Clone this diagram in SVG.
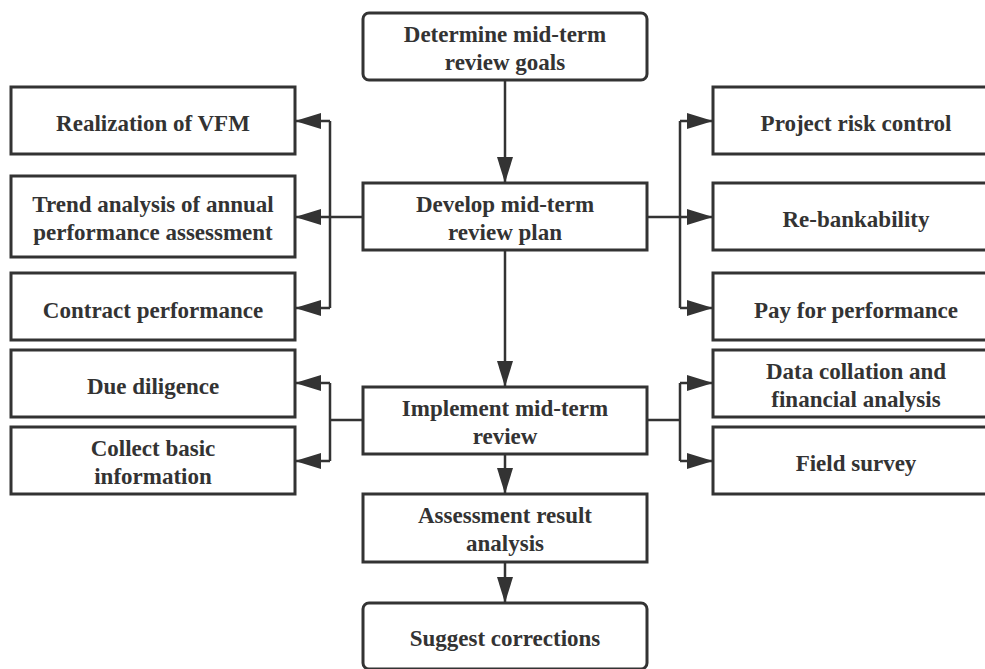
<svg xmlns="http://www.w3.org/2000/svg" width="985" height="669" viewBox="0 0 985 669">
<style>
.box{fill:#fff;stroke:#333;stroke-width:3}
.t{font-family:"Liberation Serif","Times New Roman",serif;font-weight:bold;font-size:23px;fill:#333;text-anchor:middle}
.c{fill:none;stroke:#333;stroke-width:2.5}
</style>
<defs>
<marker id="ah" markerUnits="userSpaceOnUse" markerWidth="26" markerHeight="16" refX="26" refY="8" orient="auto" viewBox="0 0 26 16">
<path d="M0,0 L26,8 L0,16 z" fill="#333"/>
</marker>
</defs>
<rect width="985" height="669" fill="#fff"/>
<g id="connectors">
<path class="c" d="M505,80 V183" marker-end="url(#ah)"/>
<path class="c" d="M505,250 V387" marker-end="url(#ah)"/>
<path class="c" d="M505,454 V494" marker-end="url(#ah)"/>
<path class="c" d="M505,562 V603" marker-end="url(#ah)"/>
<path class="c" d="M363,217 H330 M330,121 V308"/>
<path class="c" d="M330,121 H295" marker-end="url(#ah)"/>
<path class="c" d="M330,217 H295" marker-end="url(#ah)"/>
<path class="c" d="M330,308 H295" marker-end="url(#ah)"/>
<path class="c" d="M647,217 H680 M680,121 V308"/>
<path class="c" d="M680,121 H713" marker-end="url(#ah)"/>
<path class="c" d="M680,217 H713" marker-end="url(#ah)"/>
<path class="c" d="M680,308 H713" marker-end="url(#ah)"/>
<path class="c" d="M363,420 H330 M330,383 V461"/>
<path class="c" d="M330,383 H295" marker-end="url(#ah)"/>
<path class="c" d="M330,461 H295" marker-end="url(#ah)"/>
<path class="c" d="M647,420 H680 M680,383 V461"/>
<path class="c" d="M680,383 H713" marker-end="url(#ah)"/>
<path class="c" d="M680,461 H713" marker-end="url(#ah)"/>
</g>
<g id="determine"><rect class="box" x="363" y="13" width="284" height="67" rx="6"/><text class="t" x="505" y="42">Determine mid-term</text><text class="t" x="505" y="70">review goals</text></g>
<g id="develop"><rect class="box" x="363" y="183" width="284" height="67"/><text class="t" x="505" y="212">Develop mid-term</text><text class="t" x="505" y="240">review plan</text></g>
<g id="implement"><rect class="box" x="363" y="387" width="284" height="67"/><text class="t" x="505" y="416">Implement mid-term</text><text class="t" x="505" y="444">review</text></g>
<g id="assessment"><rect class="box" x="363" y="494" width="284" height="68"/><text class="t" x="505" y="523">Assessment result</text><text class="t" x="505" y="551">analysis</text></g>
<g id="suggest"><rect class="box" x="363" y="603" width="284" height="66" rx="6"/><text class="t" x="505" y="646">Suggest corrections</text></g>
<g id="vfm"><rect class="box" x="11" y="87" width="284" height="67"/><text class="t" x="153" y="131">Realization of VFM</text></g>
<g id="trend"><rect class="box" x="11" y="176" width="284" height="81"/><text class="t" x="153" y="212">Trend analysis of annual</text><text class="t" x="153" y="240">performance assessment</text></g>
<g id="contract"><rect class="box" x="11" y="273" width="284" height="67"/><text class="t" x="153" y="318">Contract performance</text></g>
<g id="due"><rect class="box" x="11" y="350" width="284" height="67"/><text class="t" x="153" y="394">Due diligence</text></g>
<g id="collect"><rect class="box" x="11" y="427" width="284" height="67"/><text class="t" x="153" y="456">Collect basic</text><text class="t" x="153" y="484">information</text></g>
<g id="risk"><rect class="box" x="713" y="87" width="286" height="67"/><text class="t" x="856" y="131">Project risk control</text></g>
<g id="rebank"><rect class="box" x="713" y="183" width="286" height="67"/><text class="t" x="856" y="227">Re-bankability</text></g>
<g id="pay"><rect class="box" x="713" y="273" width="286" height="67"/><text class="t" x="856" y="318">Pay for performance</text></g>
<g id="data"><rect class="box" x="713" y="350" width="286" height="67"/><text class="t" x="856" y="379">Data collation and</text><text class="t" x="856" y="407">financial analysis</text></g>
<g id="field"><rect class="box" x="713" y="427" width="286" height="67"/><text class="t" x="856" y="471">Field survey</text></g>
</svg>
